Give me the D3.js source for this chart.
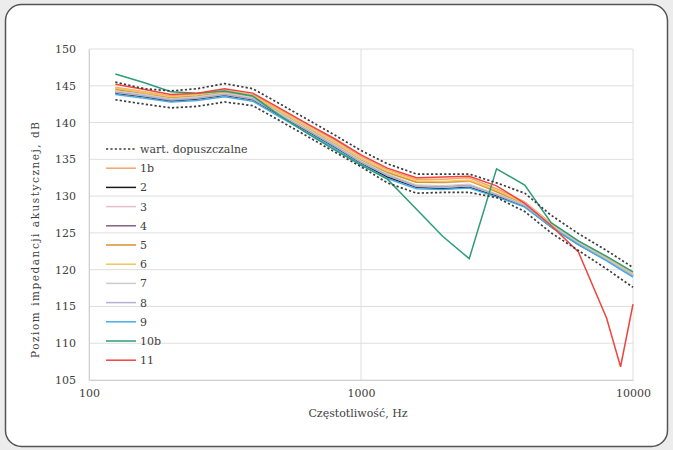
<!DOCTYPE html>
<html>
<head>
<meta charset="utf-8">
<script src="https://cdnjs.cloudflare.com/ajax/libs/d3/7.8.5/d3.min.js"></script>
<style>
  html, body { margin: 0; padding: 0; background: #ececec; }
  svg { display: block; }
</style>
</head>
<body>
<svg id="chart"></svg>
<script>
// 1/3-octave band frequencies, Hz
const freqs = [125, 160, 200, 250, 315, 400, 500, 630, 800, 1000, 1250, 1600, 2000, 2500, 3150, 4000, 5000, 6300, 8000, 10000];
// series 11 has one extra point between 8000 and 10000
const freqs11 = [125, 160, 200, 250, 315, 400, 500, 630, 800, 1000, 1250, 1600, 2000, 2500, 3150, 4000, 5000, 6300, 8000, 9000, 10000];

const limitUpper = [145.5, 144.6, 144.3, 144.6, 145.3, 144.6, 142.6, 140.5, 138.3, 136.2, 134.4, 133.0, 133.0, 133.0, 131.8, 130.4, 127.4, 124.9, 122.6, 120.3];
const limitLower = [143.1, 142.5, 142.0, 142.2, 142.8, 142.3, 140.3, 138.2, 136.0, 134.0, 131.8, 130.4, 130.5, 130.5, 129.8, 127.9, 125.0, 122.6, 120.1, 117.6];

const s1b = [144.8, 144.2, 143.6, 143.9, 144.4, 143.8, 141.8, 139.7, 137.6, 135.4, 133.6, 132.3, 132.3, 132.5, 131.0, 129.2, 126.3, 123.8, 121.6, 119.5];
const s2  = [144.0, 143.5, 142.9, 143.2, 143.7, 143.1, 141.0, 138.9, 136.7, 134.5, 132.6, 131.2, 131.0, 131.2, 130.0, 128.6, 125.8, 123.4, 121.3, 119.2];
const s3  = [144.6, 144.0, 143.4, 143.6, 144.2, 143.6, 141.6, 139.6, 137.4, 135.2, 133.3, 131.9, 131.8, 132.0, 130.8, 129.1, 126.2, 123.8, 121.5, 119.5];
const s4  = [144.2, 143.6, 143.0, 143.3, 143.8, 143.2, 141.2, 139.1, 136.9, 134.7, 132.9, 131.4, 131.3, 131.5, 130.2, 128.7, 125.9, 123.5, 121.3, 119.2];
const s5  = [144.5, 143.9, 143.4, 143.6, 144.1, 143.5, 141.4, 139.3, 137.1, 134.9, 133.2, 131.9, 131.9, 132.1, 130.6, 128.9, 126.0, 123.6, 121.4, 119.3];
const s6  = [144.7, 144.1, 143.5, 143.8, 144.3, 143.7, 141.6, 139.5, 137.3, 135.1, 133.4, 132.1, 132.0, 132.2, 130.8, 129.0, 126.1, 123.7, 121.5, 119.4];
const s7  = [144.3, 143.8, 143.2, 143.5, 144.0, 143.4, 141.3, 139.2, 137.0, 134.8, 133.0, 131.5, 131.4, 131.6, 130.3, 128.8, 126.0, 123.6, 121.4, 119.3];
const s8  = [144.1, 143.6, 143.1, 143.3, 143.8, 143.2, 141.1, 139.0, 136.8, 134.6, 132.8, 131.3, 131.2, 131.4, 130.2, 128.7, 125.9, 123.5, 121.3, 119.2];
const s9  = [143.8, 143.3, 142.8, 143.0, 143.5, 142.9, 140.8, 138.7, 136.5, 134.3, 132.4, 131.0, 130.9, 131.1, 129.9, 128.5, 125.8, 123.4, 121.2, 119.0];
const s10b = [146.6, 145.4, 144.2, 144.0, 144.3, 143.6, 141.0, 138.6, 136.3, 134.2, 132.3, 128.2, 124.5, 121.5, 133.7, 131.5, 126.4, 123.9, 121.8, 119.7];
const s11 = [145.2, 144.5, 143.8, 144.0, 144.6, 144.0, 142.0, 139.9, 137.8, 135.6, 133.8, 132.5, 132.6, 132.7, 131.4, 129.0, 126.0, 122.4, 113.4, 106.8, 115.3];

const seriesNames = ["1b", "2", "3", "4", "5", "6", "7", "8", "9", "10b", "11"];
const seriesColors = ["#f5a66a", "#1a1a1a", "#e1bfcc", "#84627f", "#d8922a", "#f3c55a", "#cdcdcd", "#b2b2cf", "#46ade6", "#2e9c7a", "#ef4540"];
const seriesValues = [s1b, s2, s3, s4, s5, s6, s7, s8, s9, s10b, s11];
const seriesFreqs = [freqs, freqs, freqs, freqs, freqs, freqs, freqs, freqs, freqs, freqs, freqs11];

const yTicks = [105, 110, 115, 120, 125, 130, 135, 140, 145, 150];
const xTicks = [100, 1000, 10000];

const FONT = "DejaVu Serif";
const TEXT_COLOR = "#404040";

const W = 673, H = 450;
const svg = d3.select("#chart").attr("width", W).attr("height", H);

// panel frame
svg.append("rect")
  .attr("x", 5.5).attr("y", 4.5)
  .attr("width", 662).attr("height", 442)
  .attr("rx", 16)
  .attr("fill", "#ffffff")
  .attr("stroke", "#555555")
  .attr("stroke-width", 1.5);

const x = d3.scaleLog().domain([100, 10000]).range([89, 633]);
const y = d3.scaleLinear().domain([105, 150]).range([380, 49]);

// gridlines
svg.append("g").selectAll("line").data(yTicks).join("line")
  .attr("x1", x(100)).attr("x2", x(10000))
  .attr("y1", d => y(d)).attr("y2", d => y(d))
  .attr("stroke", "#dedede").attr("stroke-width", 1);

svg.append("g").selectAll("line").data(xTicks).join("line")
  .attr("x1", d => x(d)).attr("x2", d => x(d))
  .attr("y1", y(105)).attr("y2", y(150))
  .attr("stroke", "#dedede").attr("stroke-width", 1);

// axes
const yAxis = svg.append("g")
  .attr("transform", `translate(${x(100)},0)`)
  .call(d3.axisLeft(y).tickValues(yTicks).tickSize(0).tickPadding(13).tickFormat(d3.format("d")));
yAxis.attr("font-family", FONT).attr("font-size", 11);
yAxis.select(".domain").attr("stroke", "#d0d0d0");
yAxis.selectAll("text").attr("fill", TEXT_COLOR);

const xAxis = svg.append("g")
  .attr("transform", `translate(0,${y(105)})`)
  .call(d3.axisBottom(x).tickValues(xTicks).tickSize(0).tickPadding(9).tickFormat(d3.format("d")));
xAxis.attr("font-family", FONT).attr("font-size", 11);
xAxis.select(".domain").attr("stroke", "#d0d0d0");
xAxis.selectAll("text").attr("fill", TEXT_COLOR);

// axis titles
svg.append("text")
  .attr("x", 358).attr("y", 417)
  .attr("text-anchor", "middle")
  .attr("font-family", FONT).attr("font-size", 11).attr("fill", TEXT_COLOR)
  .text("Częstotliwość,  Hz");

svg.append("text")
  .attr("transform", "translate(39,240) rotate(-90)")
  .attr("text-anchor", "middle")
  .attr("font-family", FONT).attr("font-size", 10.5).attr("fill", TEXT_COLOR)
  .attr("textLength", 236).attr("lengthAdjust", "spacing")
  .text("Poziom impedancji akustycznej, dB");

const line = d3.line()
  .x(d => x(d[0]))
  .y(d => y(d[1]));

// measured series
seriesValues.forEach((vals, i) => {
  const pts = seriesFreqs[i].map((f, j) => [f, vals[j]]);
  svg.append("path")
    .datum(pts)
    .attr("d", line)
    .attr("fill", "none")
    .attr("stroke", seriesColors[i])
    .attr("stroke-width", 1.5);
});

// tolerance limits
[limitUpper, limitLower].forEach(vals => {
  svg.append("path")
    .datum(freqs.map((f, j) => [f, vals[j]]))
    .attr("d", line)
    .attr("fill", "none")
    .attr("stroke", "#3c3c3c")
    .attr("stroke-width", 1.7)
    .attr("stroke-dasharray", "2.2,2.2");
});

// legend
const legend = svg.append("g").attr("transform", "translate(106,149)");
const legendItems = [{ name: "wart. dopuszczalne", color: "#3c3c3c", dashed: true }]
  .concat(seriesNames.map((n, i) => ({ name: n, color: seriesColors[i], dashed: false })));

legendItems.forEach((item, i) => {
  const g = legend.append("g").attr("transform", `translate(0,${i * 19.2})`);
  g.append("line")
    .attr("x1", 0).attr("x2", 30)
    .attr("y1", 0).attr("y2", 0)
    .attr("stroke", item.color)
    .attr("stroke-width", item.dashed ? 1.7 : 1.5)
    .attr("stroke-dasharray", item.dashed ? "2.2,2.2" : null);
  g.append("text")
    .attr("x", 34).attr("y", 4)
    .attr("font-family", FONT).attr("font-size", 11).attr("fill", TEXT_COLOR)
    .text(item.name);
});
</script>
</body>
</html>
